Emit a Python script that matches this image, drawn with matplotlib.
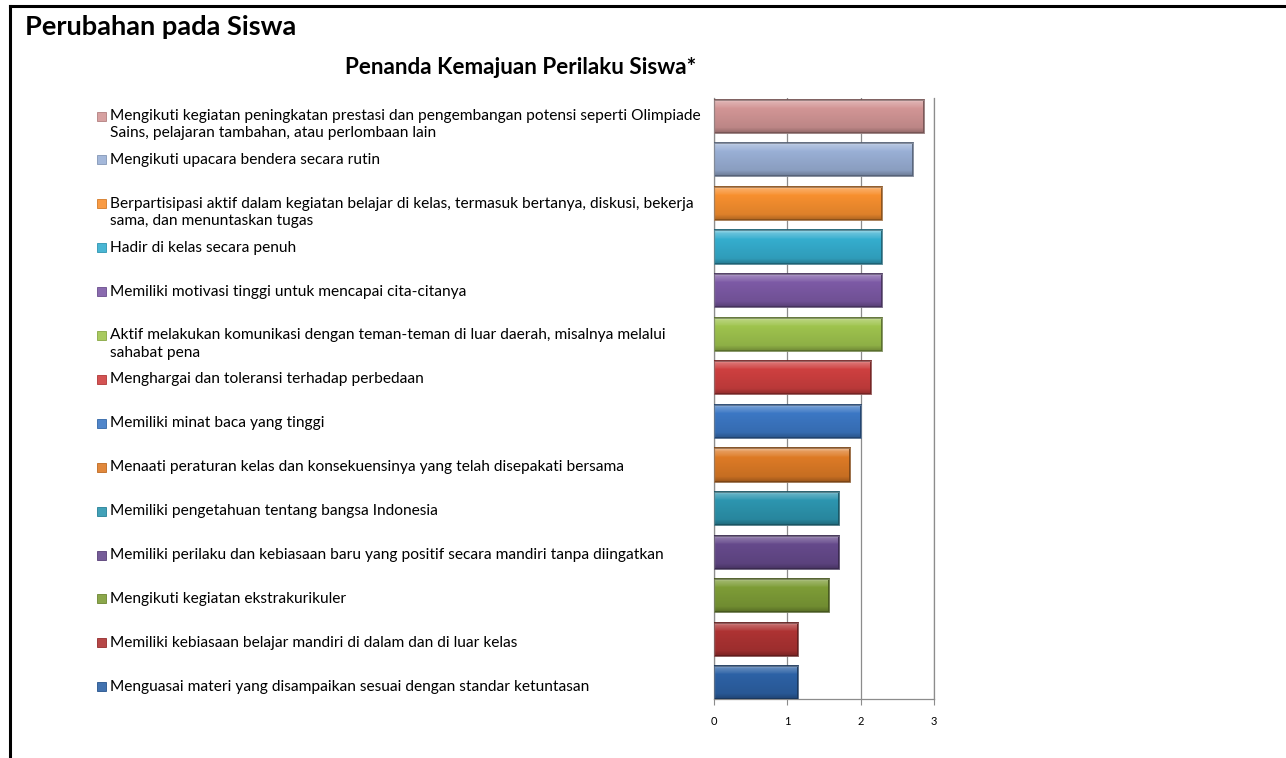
import matplotlib
matplotlib.use('Agg')
import matplotlib.pyplot as plt
import numpy as np
from matplotlib.colors import to_rgb
from matplotlib.patches import Rectangle

# ---------------- data ----------------
categories = [
    "Mengikuti kegiatan peningkatan prestasi dan pengembangan potensi seperti Olimpiade\nSains, pelajaran tambahan, atau perlombaan lain",
    "Mengikuti upacara bendera secara rutin",
    "Berpartisipasi aktif dalam kegiatan belajar di kelas, termasuk bertanya, diskusi, bekerja\nsama, dan menuntaskan tugas",
    "Hadir di kelas secara penuh",
    "Memiliki motivasi tinggi untuk mencapai cita-citanya",
    "Aktif melakukan komunikasi dengan teman-teman di luar daerah, misalnya melalui\nsahabat pena",
    "Menghargai dan toleransi terhadap perbedaan",
    "Memiliki minat baca yang tinggi",
    "Menaati peraturan kelas dan konsekuensinya yang telah disepakati bersama",
    "Memiliki pengetahuan tentang bangsa Indonesia",
    "Memiliki perilaku dan kebiasaan baru yang positif secara mandiri tanpa diingatkan",
    "Mengikuti kegiatan ekstrakurikuler",
    "Memiliki kebiasaan belajar mandiri di dalam dan di luar kelas",
    "Menguasai materi yang disampaikan sesuai dengan standar ketuntasan",
]
values = [2.86, 2.71, 2.29, 2.29, 2.29, 2.29, 2.14, 2.00, 1.86, 1.71, 1.71, 1.57, 1.14, 1.14]
colors = ['#D39696', '#9AB0D6', '#F8902F', '#35AECF', '#7D5AA6', '#9FC44E', '#CF4040',
          '#3C78C5', '#DE7B26', '#2D96B0', '#664A8C', '#7E9D37', '#AE3333', '#2D62A6']
xticks = [0, 1, 2, 3]
title = "Perubahan pada Siswa"
subtitle = "Penanda Kemajuan Perilaku Siswa*"

# ---------------- figure ----------------
W, H = 1286, 758
fig = plt.figure(figsize=(W / 100, H / 100), dpi=100)
FONT = 'Lato'

def fx(px):
    return px / W

def fy(py):
    return 1 - py / H

# axes placement (pixel coords of the plot area)
L, R, T, B = 714, 934, 98, 699
ax = fig.add_axes([fx(L), fy(B), fx(R - L), (B - T) / H])

ypos = np.arange(len(values))
bars = ax.barh(ypos, values, height=0.76, color=colors, zorder=2)

def mix(c, t, amt):
    c = np.array(to_rgb(c)); t = np.array(to_rgb(t))
    return c * (1 - amt) + t * amt

# glossy gradient on each bar
n = 60
for b, c in zip(bars, colors):
    prof = np.zeros((n, 2, 3))
    for i in range(n):
        f = i / (n - 1)
        if f < 0.08:
            col = mix(c, 'white', 0.5 - 2.5 * f)
        elif f < 0.25:
            col = mix(c, 'white', 0.25 - (f - 0.08) * 1.2)
        elif f < 0.85:
            col = mix(c, 'black', (f - 0.25) * 0.18)
        else:
            col = mix(c, 'black', 0.12 + (f - 0.85) * 1.2)
        prof[i, :, :] = col
    x0, y0, w, h = b.get_x(), b.get_y(), b.get_width(), b.get_height()
    im = ax.imshow(prof, extent=(x0, x0 + w, y0 + h, y0), origin='upper',
                   aspect='auto', zorder=2.5, interpolation='bilinear')
    im.set_clip_path(b)
    ax.add_patch(Rectangle((x0, y0), w, h, fill=False,
                           ec=mix(c, 'black', 0.45), lw=1.3, zorder=3))
    ax.add_patch(Rectangle((x0, y0), w, h, fill=False,
                           ec=(1, 1, 1, 0.35), lw=0.5, zorder=3.1))

ax.set_aspect('auto')
ax.set_xlim(0, 3)
ax.set_ylim(13.37, -0.42)

ax.set_xticks(xticks)
ax.set_xticklabels([str(t) for t in xticks], fontsize=8, family=FONT)
ax.set_yticks([])
ax.grid(axis='x', color='#8C8C8C', lw=0.9, zorder=1)
ax.spines['top'].set_visible(False)
for s in ['left', 'bottom', 'right']:
    ax.spines[s].set_color('#8C8C8C')
    ax.spines[s].set_linewidth(0.9)
ax.tick_params(axis='x', length=4, color='#8C8C8C', pad=8)

# ---------------- texts ----------------
renderer = fig.canvas.get_renderer()

def fit_size(txt, target_px, weight='normal', base=10.0):
    t = fig.text(0, 0, txt, fontsize=base, family=FONT, weight=weight)
    w = t.get_window_extent(renderer).width
    t.remove()
    return base * target_px / w

title_fs = fit_size(title, 272, 'bold')
fig.text(fx(25), fy(27), title, fontsize=title_fs, family=FONT, weight='bold',
         va='center', ha='left')
sub_fs = fit_size(subtitle, 352, 'bold')
fig.text(fx(521), fy(68), subtitle, fontsize=sub_fs, family=FONT, weight='bold',
         va='center', ha='center')

leg_fs = fit_size(categories[0].split('\n')[0], 593)
for i, (lab, c) in enumerate(zip(categories, colors)):
    yc = 116 + 43.9 * i
    fig.patches.append(Rectangle((fx(97), fy(yc + 4.5)), fx(9), 9 / H,
                                 transform=fig.transFigure, figure=fig,
                                 facecolor=mix(c, 'white', 0.1),
                                 edgecolor=mix(c, 'black', 0.15), lw=0.6))
    for k, line in enumerate(lab.split('\n')):
        fig.text(fx(110), fy(yc + k * 17.5), line, fontsize=leg_fs, family=FONT,
                 va='center', ha='left', color='#000000')

# frame lines (top and left)
fig.add_artist(plt.Line2D([fx(10), 1], [fy(6), fy(6)], color='black', lw=2.2,
                          transform=fig.transFigure))
fig.add_artist(plt.Line2D([fx(10), fx(10)], [fy(6), 0], color='black', lw=2.2,
                          transform=fig.transFigure))

fig.savefig('out.png', dpi=100)
